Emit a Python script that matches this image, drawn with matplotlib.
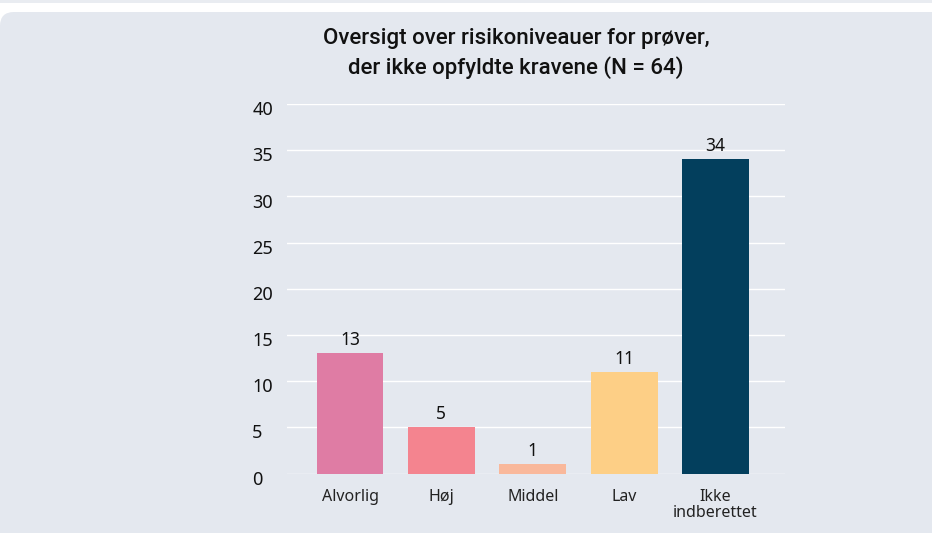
import matplotlib
matplotlib.use('Agg')
import matplotlib.pyplot as plt
from matplotlib.patches import FancyBboxPatch, Rectangle
from matplotlib.transforms import ScaledTranslation

categories = ['Alvorlig', 'Høj', 'Middel', 'Lav', 'Ikke\nindberettet']
counts = [13, 5, 1, 11, 34]
colors = ['#DF7CA4', '#F4848F', '#F9B89B', '#FDCF86', '#033F5D']
yticks = [0, 5, 10, 15, 20, 25, 30, 35, 40]
title = 'Oversigt over risikoniveauer for prøver,\nder ikke opfyldte kravene (N = 64)'

panel = '#E4E8EF'
plt.rcParams['font.family'] = ['Noto Sans', 'DejaVu Sans']

fig = plt.figure(figsize=(9.32, 5.33), dpi=100, facecolor='white')
# light strip at the very top, then rounded panel behind everything
fig.patches.append(Rectangle((0, 1 - 3 / 533), 1, 3 / 533, transform=fig.transFigure,
                             facecolor='#E9ECF1', edgecolor='none', zorder=-2))
fig.patches.append(FancyBboxPatch((0, -0.05), 1.02, 1.05 - 12 / 533,
                                  boxstyle='round,pad=0,rounding_size=0.015',
                                  transform=fig.transFigure, mutation_aspect=932 / 533,
                                  facecolor=panel, edgecolor='none', zorder=-2))

ax = fig.add_axes([287 / 932, (533 - 473.5) / 533, 498 / 932, 369.5 / 533])
ax.set_facecolor('none')
ax.set_zorder(1)

x = range(len(categories))
bars = ax.bar(x, counts, width=0.73, color=colors, zorder=3)
for b, v in zip(bars, counts):
    ax.text(b.get_x() + b.get_width() / 2, v + 0.45, str(v), ha='center', va='bottom',
            fontsize=12.5, color='#111111', zorder=4)

ax.set_xlim(-0.69, 4.76)
ax.set_ylim(0, 40)
ax.set_yticks(yticks)
ax.set_yticklabels([str(t) for t in yticks], ha='left', fontsize=13, color='#111111')
ax.tick_params(axis='y', length=0, pad=25)
# labels sit a little below their gridlines in the original
shift = ScaledTranslation(0, -3 / 72, fig.dpi_scale_trans)
for lbl in ax.get_yticklabels():
    lbl.set_transform(lbl.get_transform() + shift)
ax.set_xticks(list(x))
ax.set_xticklabels(categories, fontsize=11.5, color='#222222', linespacing=1.05)
ax.tick_params(axis='x', length=0, pad=11)
ax.grid(axis='y', color='white', linewidth=1.0, zorder=1)
for s in ax.spines.values():
    s.set_visible(False)

fig.text(516 / 932, 1 - 28 / 533, title, ha='center', va='top', fontsize=16,
         fontweight='medium', linespacing=1.4, color='#111111',
         family=['Roboto', 'DejaVu Sans'])

fig.savefig('out.png', dpi=100, facecolor=fig.get_facecolor())
